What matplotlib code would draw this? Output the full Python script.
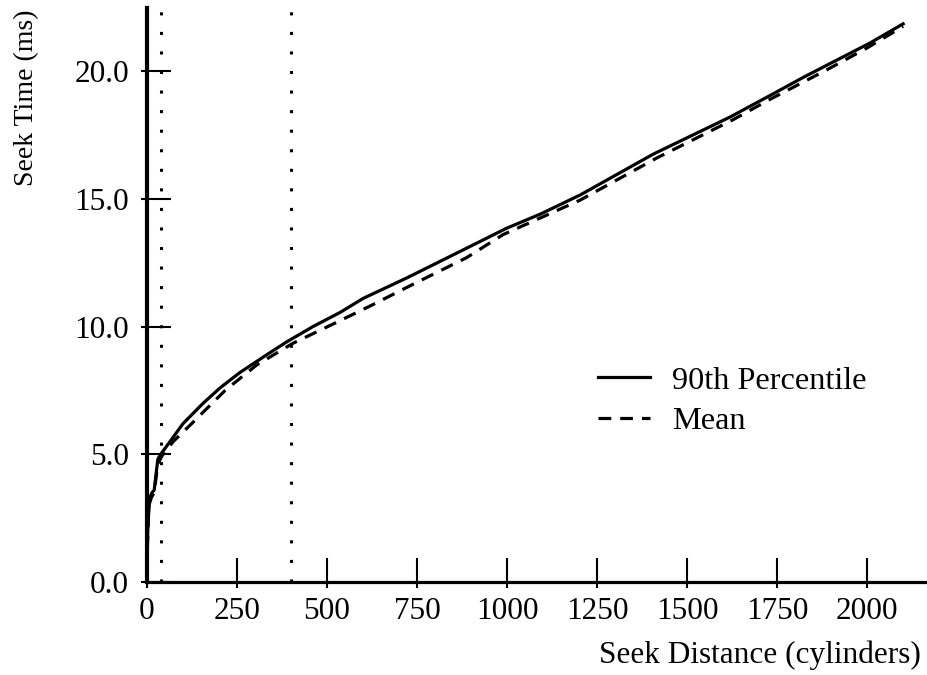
import numpy as np
import matplotlib.pyplot as plt

plt.rcParams['font.family'] = ['Liberation Serif', 'DejaVu Serif']

# seek curve, 90th percentile
p90_dist = [1, 3, 8, 14, 20, 25, 30, 38, 64, 100, 156, 203, 258, 333, 388,
            461, 536, 600, 721, 878, 999, 1092, 1203, 1406, 1619, 1731,
            1822, 2008, 2100]
p90_time = [1.5, 2.4, 3.3, 3.5, 3.6, 4.2, 4.8, 5.0, 5.5, 6.2, 7.0, 7.6, 8.2,
            8.9, 9.4, 10.0, 10.55, 11.1, 11.9, 13.0, 13.85, 14.4, 15.15,
            16.75, 18.2, 19.05, 19.75, 21.1, 21.85]

# seek curve, mean
mean_dist = [1, 5, 12, 20, 27, 33, 42, 73, 124, 217, 305, 406, 517, 619,
             731, 888, 989, 1100, 1203, 1416, 1628, 1731, 1888, 1999, 2100]
mean_time = [1.3, 3.0, 3.3, 3.5, 4.3, 4.7, 4.95, 5.5, 6.2, 7.5, 8.5, 9.35,
             10.1, 10.8, 11.6, 12.7, 13.6, 14.3, 14.95, 16.6, 18.1, 18.9,
             20.05, 20.9, 21.75]

# region boundaries (cylinders)
boundaries = [40, 400]

xticks = [0, 250, 500, 750, 1000, 1250, 1500, 1750, 2000]
yticks = [0, 5, 10, 15, 20]

fig = plt.figure(figsize=(9.28, 6.75), dpi=100)
ax = fig.add_axes([147 / 928, 93 / 675, 1 - 147 / 928, (582 - 8) / 675])

for b in boundaries:
    ax.axvline(b, color='black', lw=2.2, linestyle=(0, (1, 5.4)),
               dash_capstyle='butt', zorder=1)

ax.plot(p90_dist, p90_time, color='black', lw=2.3, label='90th Percentile',
        zorder=3, solid_joinstyle='round')
ax.plot(mean_dist, mean_time, color='black', lw=2.3, linestyle=(0, (4, 2.8)),
        label='Mean', zorder=2)

ax.set_xlim(0, 2169)
ax.set_ylim(0, 22.47)

for side in ('top', 'right'):
    ax.spines[side].set_visible(False)
ax.spines['left'].set_linewidth(3.0)
ax.spines['bottom'].set_linewidth(2.3)

ax.set_xticks(xticks)
ax.set_xticklabels([str(t) for t in xticks])
ax.set_yticks(yticks)
ax.set_yticklabels(['%.1f' % t for t in yticks])

# long inward ticks with a short stub outside the axis
ax.tick_params(which='major', direction='in', length=17, width=1.5,
               labelsize=22.5)
ax.tick_params(axis='x', which='major', pad=11)
ax.tick_params(axis='y', which='major', pad=13)
ax.set_xticks(xticks, minor=True)
ax.set_yticks(yticks, minor=True)
ax.xaxis.remove_overlapping_locs = False
ax.yaxis.remove_overlapping_locs = False
ax.tick_params(which='minor', direction='out', length=4.5, width=1.5)

fig.text(921 / 928, 1 - 663 / 675, 'Seek Distance (cylinders)', fontsize=22.5,
         ha='right', va='baseline')
fig.text(27 / 928, 1 - 9 / 675, 'Seek Time (ms)', fontsize=20, rotation=90,
         ha='center', va='top')

ax.legend(loc='center left', bbox_to_anchor=(598 / 928, 1 - 401 / 675),
          bbox_transform=fig.transFigure, frameon=False, fontsize=23.2,
          handlelength=1.6, handletextpad=0.7, labelspacing=0.33,
          borderpad=0, borderaxespad=0)

fig.savefig('out.png', dpi=100)
